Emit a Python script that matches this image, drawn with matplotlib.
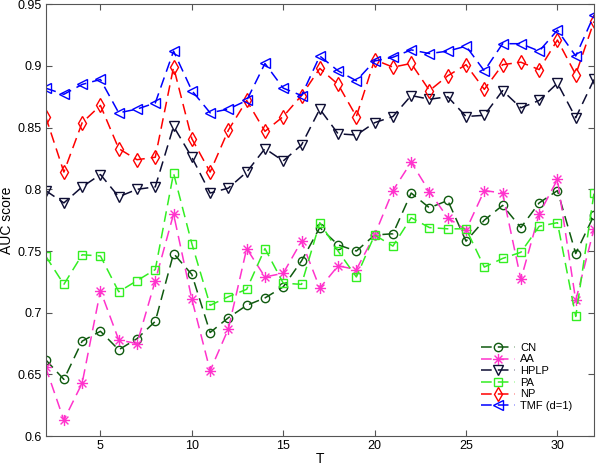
import matplotlib
matplotlib.use("Agg")
import matplotlib.pyplot as plt
from matplotlib.path import Path
import numpy as np

plt.rcParams["font.family"] = ["Liberation Sans", "DejaVu Sans"]

T = np.arange(2, 33)

cn = [0.662, 0.646, 0.677, 0.685, 0.670, 0.679, 0.693, 0.748, 0.731, 0.684,
      0.696, 0.706, 0.712, 0.721, 0.742, 0.769, 0.755, 0.750, 0.763, 0.764,
      0.797, 0.785, 0.791, 0.758, 0.775, 0.787, 0.769, 0.789, 0.799, 0.748, 0.779]
aa = [0.656, 0.613, 0.643, 0.718, 0.678, 0.675, 0.726, 0.780, 0.711, 0.653,
      0.687, 0.752, 0.729, 0.732, 0.758, 0.720, 0.738, 0.735, 0.763, 0.799,
      0.822, 0.798, 0.777, 0.767, 0.799, 0.797, 0.727, 0.780, 0.808, 0.710, 0.768]
hplp = [0.799, 0.789, 0.802, 0.812, 0.794, 0.800, 0.802, 0.851, 0.826, 0.797,
        0.801, 0.814, 0.833, 0.823, 0.836, 0.865, 0.845, 0.844, 0.854, 0.859,
        0.876, 0.873, 0.875, 0.859, 0.860, 0.880, 0.866, 0.872, 0.886, 0.858, 0.889]
pa = [0.746, 0.723, 0.747, 0.746, 0.717, 0.726, 0.735, 0.813, 0.756, 0.706,
      0.713, 0.719, 0.752, 0.724, 0.723, 0.773, 0.750, 0.729, 0.763, 0.754,
      0.777, 0.769, 0.768, 0.768, 0.737, 0.744, 0.749, 0.770, 0.773, 0.697, 0.797]
np_ = [0.859, 0.814, 0.854, 0.868, 0.833, 0.824, 0.826, 0.899, 0.841, 0.814,
       0.848, 0.872, 0.847, 0.859, 0.876, 0.898, 0.885, 0.859, 0.905, 0.899,
       0.902, 0.880, 0.892, 0.901, 0.881, 0.901, 0.903, 0.897, 0.921, 0.893, 0.936]
tmf = [0.882, 0.877, 0.885, 0.889, 0.862, 0.865, 0.870, 0.912, 0.880, 0.862,
       0.865, 0.872, 0.902, 0.882, 0.876, 0.908, 0.896, 0.888, 0.904, 0.907,
       0.913, 0.910, 0.912, 0.916, 0.896, 0.918, 0.918, 0.912, 0.929, 0.908, 0.941]

# MATLAB-style asterisk: plus + cross, drawn as open strokes
d = 0.7071
asterisk = Path(
    [(-1, 0), (1, 0), (0, -1), (0, 1), (-d, -d), (d, d), (-d, d), (d, -d)],
    [Path.MOVETO, Path.LINETO] * 4,
)

series = [
    ("CN", cn, "#0f5a0f", "o", 6),
    ("AA", aa, "#ff33cc", asterisk, 8),
    ("HPLP", hplp, "#0d0d33", "v", 7),
    ("PA", pa, "#33ee22", "s", 5.5),
    ("NP", np_, "#ff0000", "d", 7),
    ("TMF (d=1)", tmf, "#0000ff", "<", 7),
]

fig = plt.figure(figsize=(6, 4.67), dpi=100)
ax = fig.add_axes([0.076, 0.066, 0.914, 0.925])

for label, vals, color, marker, ms in series:
    ax.plot(T, vals, linestyle=(0, (7, 4)), color=color, linewidth=1.1,
            marker=marker, markersize=ms, markerfacecolor="none",
            markeredgecolor=color, markeredgewidth=1.0, label=label)

ax.set_xlim(2, 32)
ax.set_ylim(0.6, 0.95)
ax.set_xticks([5, 10, 15, 20, 25, 30])
ax.set_yticks(np.arange(0.6, 0.951, 0.05))
ax.set_yticklabels(["0.6", "0.65", "0.7", "0.75", "0.8", "0.85", "0.9", "0.95"])
ax.tick_params(direction="in", top=True, right=True, labelsize=9, length=4,
               color="#555555", pad=3)
for s in ax.spines.values():
    s.set_color("#555555")
ax.set_xlabel("T", fontsize=10, labelpad=0)
ax.set_ylabel("AUC score", fontsize=10, labelpad=2)

ax.legend(loc="lower right", bbox_to_anchor=(0.975, 0.04), frameon=False,
          fontsize=8, handlelength=3.0, labelspacing=0.15,
          handletextpad=0.5, borderpad=0.2)

fig.savefig("out.png", dpi=100)
